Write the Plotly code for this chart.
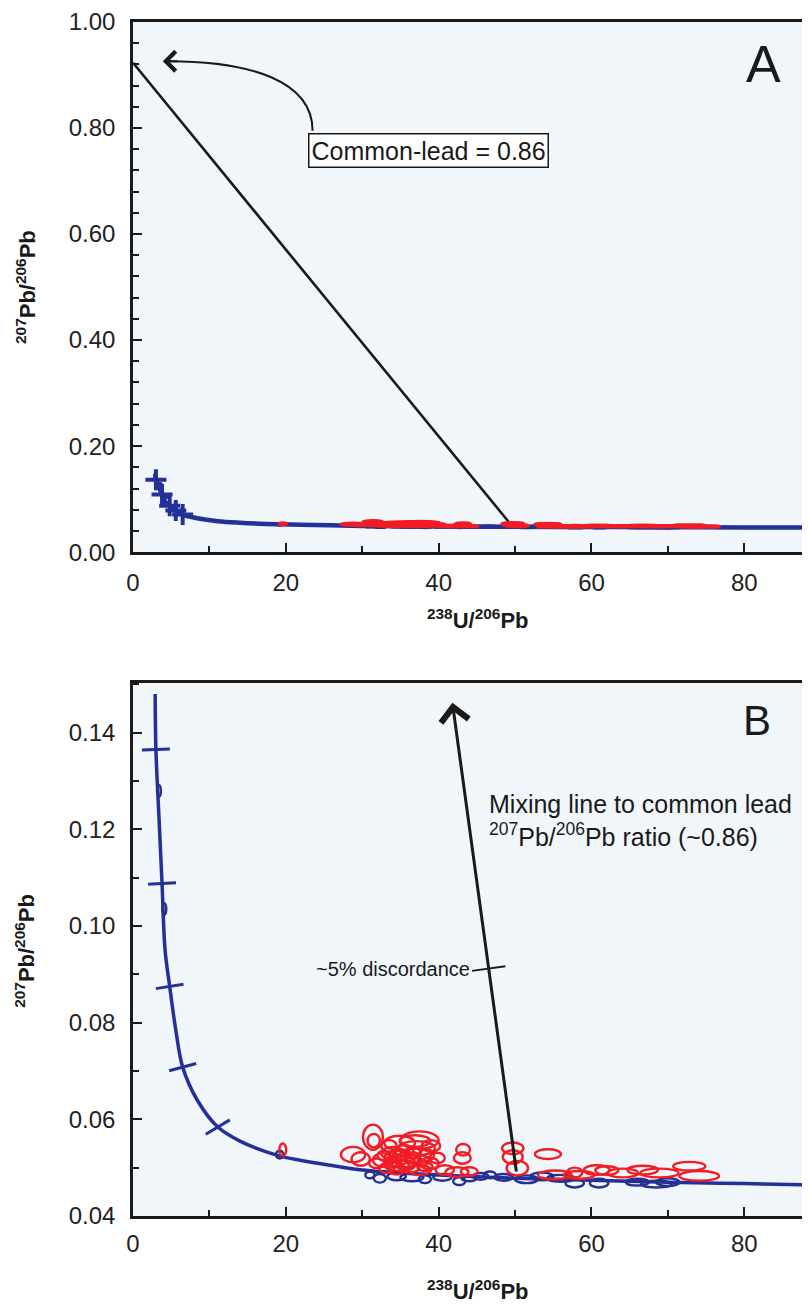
import plotly.graph_objects as go

# ---------------- data ----------------
# Tera-Wasserburg concordia (238U/206Pb vs 207Pb/206Pb), read-off points
conc_x = [2.9, 3.0, 3.4, 3.8, 4.2, 4.8, 5.6, 6.5, 8.4, 11.1, 14.0, 18.8, 22.0, 25.8,
          30.0, 35.0, 40.0, 50.0, 60.0, 70.0, 80.0, 90.0]
conc_y = [0.148, 0.1365, 0.1225, 0.1088, 0.095, 0.0875, 0.0785, 0.0708, 0.064, 0.0584,
          0.0555, 0.0526, 0.0515, 0.0505, 0.0495, 0.0489, 0.0485, 0.0478, 0.0474,
          0.0470, 0.0467, 0.0464]
# concordia age ticks (panel B) and crosses (panel A)
tick_x = [3.0, 3.8, 4.8, 6.5, 11.1]
tick_y = [0.1365, 0.1088, 0.0875, 0.0708, 0.0584]
crossA_x = [3.0, 3.8, 4.8, 5.6, 6.5]
crossA_y = [0.1365, 0.1088, 0.0875, 0.0785, 0.0708]

# red (discordant / common-Pb bearing) analyses: centre and half-widths
red_x = [19.6, 28.8, 31.4, 31.5, 29.8, 34.9, 37.5, 37.1, 34.0, 32.7, 35.8, 34.9, 38.4,
         38.8, 37.5, 33.2, 36.6, 31.9, 36.9, 40.8, 43.2, 43.1, 42.4, 44.0, 39.8, 35.5,
         33.5, 36.2, 34.0, 33.8, 35.0, 36.0, 37.8, 34.5, 36.8, 38.2, 39.0, 35.3, 32.8,
         49.7, 49.7, 54.3, 50.3, 55.2, 57.8, 60.7, 58.4, 62.0, 64.1, 66.7, 68.9, 72.8, 74.1]
red_y = [0.0537, 0.0527, 0.0563, 0.0556, 0.0518, 0.0551, 0.0557, 0.0540, 0.0530, 0.0516,
         0.0516, 0.0505, 0.0526, 0.0509, 0.0495, 0.0499, 0.0520, 0.0509, 0.0555, 0.0495,
         0.0537, 0.0520, 0.0491, 0.0492, 0.0520, 0.0535, 0.0545, 0.0500, 0.0512, 0.0520,
         0.0525, 0.0510, 0.0515, 0.0495, 0.0530, 0.0502, 0.0545, 0.0505, 0.0525,
         0.0540, 0.0522, 0.0528, 0.0499, 0.0485, 0.0490, 0.0495, 0.0485, 0.0494, 0.0489,
         0.0495, 0.0489, 0.0503, 0.0483]
red_rx = [0.45, 1.6, 1.3, 0.8, 1.2, 2.0, 2.5, 2.4, 1.5, 1.3, 1.5, 2.0, 1.0, 1.2, 1.5, 1.0,
          1.0, 1.0, 2.0, 1.2, 0.9, 1.1, 1.5, 1.1, 1.0, 1.2, 1.0, 1.3, 1.0, 0.9, 1.0, 0.9,
          1.0, 1.0, 0.9, 1.0, 1.2, 0.8, 0.8,
          1.4, 1.3, 1.7, 1.4, 2.2, 1.0, 1.7, 2.0, 1.5, 2.0, 2.0, 2.5, 2.1, 2.6]
red_ry = [0.0013, 0.0016, 0.0026, 0.0014, 0.0014, 0.0015, 0.0018, 0.0015, 0.0013, 0.0014,
          0.0015, 0.0012, 0.0012, 0.0012, 0.0010, 0.0010, 0.0012, 0.0010, 0.0012, 0.0010,
          0.0012, 0.0012, 0.0010, 0.0009, 0.0011, 0.0012, 0.0012, 0.0010, 0.0012, 0.0010,
          0.0011, 0.0010, 0.0010, 0.0009, 0.0010, 0.0009, 0.0012, 0.0009, 0.0010,
          0.0012, 0.0014, 0.0010, 0.0015, 0.0009, 0.0010, 0.0010, 0.0008, 0.0009, 0.0009,
          0.0009, 0.0009, 0.0009, 0.0010]

# blue (concordant) analyses
blue_x = [3.4, 4.1, 19.2, 31.0, 32.3, 34.5, 36.5, 38.2, 40.5, 42.7, 44.0, 45.5, 46.7,
          48.5, 51.5, 53.5, 56.0, 57.8, 61.0, 66.0, 68.5, 70.0]
blue_y = [0.1280, 0.1035, 0.0527, 0.0485, 0.0478, 0.0482, 0.0480, 0.0476, 0.0480, 0.0472,
          0.0478, 0.0482, 0.0485, 0.0480, 0.0476, 0.0482, 0.0478, 0.0468, 0.0468, 0.0470,
          0.0466, 0.0470]
blue_rx = [0.25, 0.25, 0.5, 0.6, 0.8, 1.2, 1.5, 0.8, 1.2, 0.8, 1.0, 1.0, 0.8, 1.2, 1.5,
           1.5, 1.8, 1.2, 1.2, 1.5, 2.0, 1.5]
blue_ry = [0.0012, 0.0012, 0.0008, 0.0007, 0.0009, 0.0008, 0.0008, 0.0008, 0.0007, 0.0008,
           0.0006, 0.0007, 0.0007, 0.0007, 0.0008, 0.0008, 0.0007, 0.0009, 0.0009, 0.0007,
           0.0007, 0.0008]

# mixing lines to common lead
mixA_x = [0.0, 49.4]
mixA_y = [0.923, 0.053]
mixB_x = [50.2, 41.8]
mixB_y = [0.0489, 0.1462]
disc_y = 0.0912  # ~5% discordance mark on the mixing line

x_ticks = [0, 20, 40, 60, 80]
yA_ticks = [0.0, 0.2, 0.4, 0.6, 0.8, 1.0]
yB_ticks = [0.04, 0.06, 0.08, 0.10, 0.12, 0.14]

common_lead_text = "Common-lead = 0.86"
mixing_text = "Mixing line to common lead<br><sup>207</sup>Pb/<sup>206</sup>Pb ratio (~0.86)"
disc_text = "~5% discordance"
axis_x_title = "<b><sup>238</sup>U/<sup>206</sup>Pb</b>"
axis_y_title = "<b><sup>207</sup>Pb/<sup>206</sup>Pb</b>"

# ---------------- styling ----------------
FONT = "Liberation Sans, Arial, sans-serif"
NAVY = "#24309a"
RED = "#f21c24"
BLUE_E = "#26308f"
INK = "#1a1a1a"

fig = go.Figure()

# ---- Panel A ----
fig.add_trace(go.Scatter(x=conc_x, y=conc_y, mode="lines", xaxis="x", yaxis="y",
                         line=dict(color=NAVY, width=4.5, shape="spline"),
                         hoverinfo="skip", showlegend=False))
fig.add_trace(go.Scatter(x=crossA_x, y=crossA_y, mode="markers", xaxis="x", yaxis="y",
                         marker=dict(symbol="cross-thin", size=15,
                                     line=dict(color=NAVY, width=4)),
                         hoverinfo="skip", showlegend=False))
fig.add_trace(go.Scatter(x=mixA_x, y=mixA_y, mode="lines", xaxis="x", yaxis="y",
                         line=dict(color=INK, width=2.6),
                         hoverinfo="skip", showlegend=False))

# ---- Panel B ----
fig.add_trace(go.Scatter(x=conc_x, y=conc_y, mode="lines", xaxis="x2", yaxis="y2",
                         line=dict(color=NAVY, width=3.5, shape="spline"),
                         hoverinfo="skip", showlegend=False))
fig.add_trace(go.Scatter(x=tick_x, y=tick_y, mode="markers", xaxis="x2", yaxis="y2",
                         marker=dict(symbol="line-ew", size=20, angle=[-2, -3, -9, -15, -31],
                                     line=dict(color=NAVY, width=3)),
                         hoverinfo="skip", showlegend=False))
disc_x = mixB_x[0] + (disc_y - mixB_y[0]) / (mixB_y[1] - mixB_y[0]) * (mixB_x[1] - mixB_x[0])
fig.add_trace(go.Scatter(x=[disc_x], y=[disc_y], mode="markers", xaxis="x2", yaxis="y2",
                         marker=dict(symbol="line-ew", size=24, angle=-8,
                                     line=dict(color=INK, width=2)),
                         hoverinfo="skip", showlegend=False))

# ---- ellipses as shapes ----
shapes = []
for xr, yr, lw in (("x", "y", 3.6), ("x2", "y2", 2.4)):
    for cx, cy, rx, ry in zip(blue_x, blue_y, blue_rx, blue_ry):
        shapes.append(dict(type="circle", xref=xr, yref=yr, x0=cx - rx, x1=cx + rx,
                           y0=cy - ry, y1=cy + ry, line=dict(color=BLUE_E, width=lw)))
    for cx, cy, rx, ry in zip(red_x, red_y, red_rx, red_ry):
        shapes.append(dict(type="circle", xref=xr, yref=yr, x0=cx - rx, x1=cx + rx,
                           y0=cy - ry, y1=cy + ry, line=dict(color=RED, width=lw)))

# curved arrow in panel A (from label box to common-lead intercept)
shapes.append(dict(type="path", xref="x", yref="y",
                   path="M 23.5,0.795 C 23.5,0.889 15.35,0.926 4.6,0.926",
                   line=dict(color=INK, width=2)))

annotations = [
    # curved-arrow head
    dict(x=3.9, y=0.926, ax=6.0, ay=0.926, xref="x", yref="y", axref="x", ayref="y",
         text="", showarrow=True, arrowhead=4, arrowwidth=2, arrowsize=1.9, arrowcolor=INK),
    dict(x=38.7, y=0.757, xref="x", yref="y", text=common_lead_text, showarrow=False,
         font=dict(family=FONT, size=25, color=INK), bgcolor="white",
         bordercolor=INK, borderwidth=1.5, borderpad=2),
    dict(x=82.5, y=0.921, xref="x", yref="y", text="A", showarrow=False,
         font=dict(family=FONT, size=52, color=INK)),
    # mixing line arrow in panel B
    dict(x=mixB_x[1], y=mixB_y[1], ax=mixB_x[0], ay=mixB_y[0], xref="x2", yref="y2",
         axref="x2", ayref="y2", text="", showarrow=True, arrowhead=4, arrowwidth=3,
         arrowsize=1.8, arrowcolor=INK),
    dict(x=46.3, y=0.1218, xref="x2", yref="y2", text=mixing_text, showarrow=False,
         xanchor="left", align="left", font=dict(family=FONT, size=25, color=INK)),
    dict(x=44.3, y=disc_y, xref="x2", yref="y2", text=disc_text, showarrow=False,
         xanchor="right", font=dict(family=FONT, size=20, color=INK)),
    dict(x=81.7, y=0.1425, xref="x2", yref="y2", text="B", showarrow=False,
         font=dict(family=FONT, size=42, color=INK)),
    # axis titles
    dict(x=0.5096, y=0.500, xref="paper", yref="paper", text=axis_x_title, showarrow=False,
         xanchor="center", yanchor="middle", font=dict(family=FONT, size=22, color=INK)),
    dict(x=0.5096, y=-0.0619, xref="paper", yref="paper", text=axis_x_title, showarrow=False,
         xanchor="center", yanchor="middle", font=dict(family=FONT, size=22, color=INK)),
    dict(x=-0.159, y=0.7784, xref="paper", yref="paper", text=axis_y_title, showarrow=False,
         xanchor="center", yanchor="middle", textangle=-90,
         font=dict(family=FONT, size=22, color=INK)),
    dict(x=-0.159, y=0.2224, xref="paper", yref="paper", text=axis_y_title, showarrow=False,
         xanchor="center", yanchor="middle", textangle=-90,
         font=dict(family=FONT, size=22, color=INK)),
]

axis_common = dict(showgrid=False, zeroline=False, ticks="inside", ticklen=9, tickwidth=2,
                   tickcolor=INK, linecolor=INK, linewidth=2.5, showline=True,
                   ticklabeloverflow="allow",
                   tickfont=dict(family=FONT, size=24, color="#222222"))

# the page body adds an 8 px offset, so the figure is sized to end at the window edge
fig.update_layout(
    width=802, height=1297,
    margin=dict(l=125, r=0, t=12, b=89),
    paper_bgcolor="white", plot_bgcolor="#f1f6fb",
    showlegend=False,
    font=dict(family=FONT, color=INK),
    xaxis=dict(domain=[0, 1], anchor="y", range=[0, 88.6], tickvals=x_ticks,
               mirror=True, ticklabelstandoff=7,
               minor=dict(dtick=10, tick0=0, ticks="inside", ticklen=6, tickwidth=2,
                          tickcolor=INK),
               **axis_common),
    yaxis=dict(domain=[0.556, 1.0], anchor="x", range=[0, 1.0], tickvals=yA_ticks,
               tickformat=".2f", ticklabelstandoff=10,
               minor=dict(dtick=0.04, tick0=0, ticks="inside", ticklen=6, tickwidth=2,
                          tickcolor=INK),
               **axis_common),
    xaxis2=dict(domain=[0, 1], anchor="y2", range=[0, 88.6], tickvals=x_ticks,
                mirror=True, ticklabelstandoff=4,
                minor=dict(dtick=10, tick0=0, ticks="inside", ticklen=6, tickwidth=2,
                           tickcolor=INK),
                **axis_common),
    yaxis2=dict(domain=[0, 0.4465], anchor="x2", range=[0.04, 0.1503], tickvals=yB_ticks,
                tickformat=".2f", ticklabelstandoff=10,
                minor=dict(dtick=0.01, tick0=0.04, ticks="inside", ticklen=6, tickwidth=2,
                           tickcolor=INK),
                **axis_common),
    shapes=shapes,
    annotations=annotations,
)

fig.write_html("out.html")
